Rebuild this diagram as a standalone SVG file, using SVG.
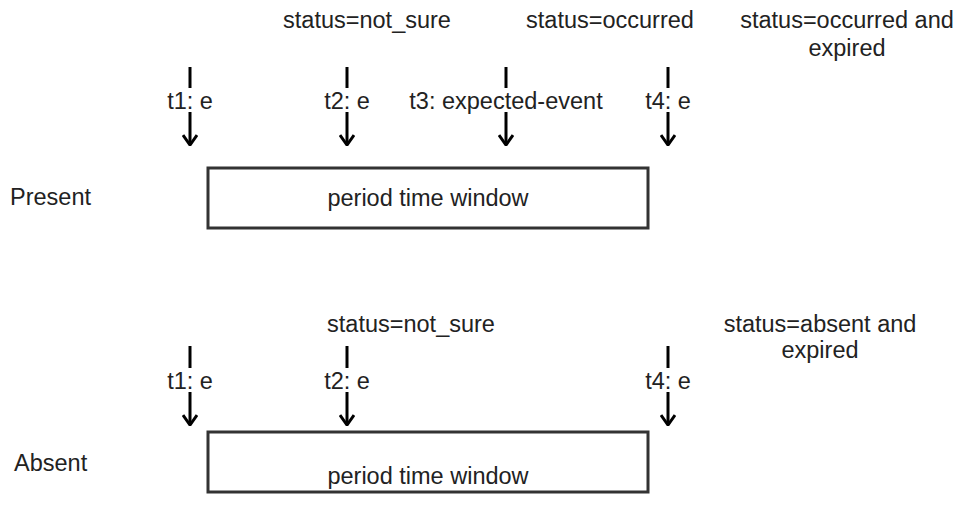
<svg xmlns="http://www.w3.org/2000/svg" width="959" height="508" viewBox="0 0 959 508">
<style>
text{font-family:"Liberation Sans",Arial,sans-serif;font-size:23.5px;fill:#222;text-anchor:middle}
.l{text-anchor:start}
.c{stroke:#000;stroke-width:3;fill:none}
.bg{fill:#fff}
.box{fill:#fff;stroke:#333;stroke-width:3}
</style>
<defs>
<marker id="a" viewBox="0 0 12 16" refX="11" refY="8" markerWidth="12" markerHeight="16" markerUnits="userSpaceOnUse" orient="auto">
<path d="M1 1 L11 8 L1 15" fill="none" stroke="#000" stroke-width="3"/>
</marker>
</defs>
<g id="connectors">
<path class="c" d="M190 67 V145" marker-end="url(#a)"/>
<path class="c" d="M347 67 V145" marker-end="url(#a)"/>
<path class="c" d="M506 67 V145" marker-end="url(#a)"/>
<path class="c" d="M668 67 V145" marker-end="url(#a)"/>
<path class="c" d="M190 346 V425" marker-end="url(#a)"/>
<path class="c" d="M347 346 V425" marker-end="url(#a)"/>
<path class="c" d="M668 346 V425" marker-end="url(#a)"/>
<rect class="bg" x="162" y="88" width="56" height="24"/>
<text x="190" y="109">t1: e</text>
<rect class="bg" x="319" y="88" width="56" height="24"/>
<text x="347" y="109">t2: e</text>
<rect class="bg" x="400" y="88" width="212" height="24"/>
<text x="506" y="109">t3: expected-event</text>
<rect class="bg" x="640" y="88" width="56" height="24"/>
<text x="668" y="109">t4: e</text>
<rect class="bg" x="162" y="368" width="56" height="24"/>
<text x="190" y="389">t1: e</text>
<rect class="bg" x="319" y="368" width="56" height="24"/>
<text x="347" y="389">t2: e</text>
<rect class="bg" x="640" y="368" width="56" height="24"/>
<text x="668" y="389">t4: e</text>
</g>
<g id="present-label"><text class="l" x="10" y="205">Present</text></g>
<g id="present-window">
<rect class="box" x="208" y="168" width="440" height="60"/>
<text x="428" y="206">period time window</text>
</g>
<g id="status-t2-present"><text x="367" y="28">status=not_sure</text></g>
<g id="status-t4-present"><text x="610" y="28">status=occurred</text></g>
<g id="status-end-present"><text x="847" y="28">status=occurred and</text><text x="847" y="56">expired</text></g>
<g id="absent-label"><text class="l" x="14" y="471">Absent</text></g>
<g id="absent-window">
<rect class="box" x="208" y="432" width="440" height="60"/>
<text x="428" y="484">period time window</text>
</g>
<g id="status-t2-absent"><text x="411" y="332">status=not_sure</text></g>
<g id="status-end-absent"><text x="820" y="332">status=absent and</text><text x="820" y="358">expired</text></g>
</svg>
